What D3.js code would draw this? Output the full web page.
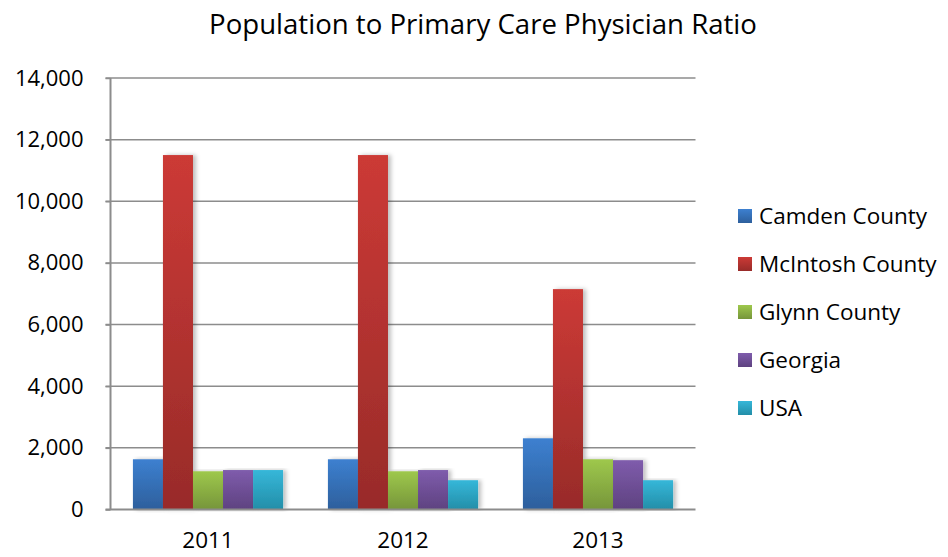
<!DOCTYPE html>
<html><head><meta charset="utf-8">
<script src="https://cdn.jsdelivr.net/npm/d3@7"></script>
<style>body{margin:0;background:#fff;} svg{display:block;font-family:"Open Sans","Noto Sans",sans-serif;}</style>
</head><body>
<svg id="c" width="948" height="557"></svg>
<script>
const years = ["2011", "2012", "2013"];
const seriesNames = ["Camden County", "McIntosh County", "Glynn County", "Georgia", "USA"];
const camden = [1630, 1630, 2310];
const mcintosh = [11500, 11500, 7150];
const glynn = [1240, 1240, 1630];
const georgia = [1280, 1280, 1600];
const usa = [1280, 950, 950];
const yTicks = [0, 2000, 4000, 6000, 8000, 10000, 12000, 14000];
const topColors = ["#3d80d0", "#cc3a36", "#9ec84c", "#7f5cac", "#36b7d9"];
const bottomColors = ["#2d5f9c", "#982b29", "#76953a", "#5e4280", "#238ea8"];

const seriesValues = [camden, mcintosh, glynn, georgia, usa];
const svg = d3.select("#c");
const m = {l: 110.5, r: 695.5, t: 78, b: 509.5};

const x0 = d3.scaleBand().domain(years).range([m.l, m.r]).paddingInner(0.23).paddingOuter(0.115);
const x1 = d3.scaleBand().domain(seriesNames).range([0, x0.bandwidth()]);
const y = d3.scaleLinear().domain([0, 14000]).range([m.b, m.t]);

const defs = svg.append("defs");
seriesNames.forEach((s, i) => {
  const g = defs.append("linearGradient").attr("id", "g" + i).attr("x1", 0).attr("y1", 0).attr("x2", 0).attr("y2", 1);
  g.append("stop").attr("offset", "0%").attr("stop-color", topColors[i]);
  g.append("stop").attr("offset", "100%").attr("stop-color", bottomColors[i]);
});
const f = defs.append("filter").attr("id", "sh").attr("x", "-20%").attr("y", "-5%").attr("width", "150%").attr("height", "110%");
f.append("feDropShadow").attr("dx", 3).attr("dy", 0).attr("stdDeviation", 2).attr("flood-color", "#000").attr("flood-opacity", 0.25);

// gridlines
svg.append("g").selectAll("line").data(yTicks.filter(d => d > 0)).join("line")
  .attr("x1", m.l - 5).attr("x2", m.r).attr("y1", d => y(d)).attr("y2", d => y(d))
  .attr("stroke", "#8c8c8c").attr("stroke-width", 1.5);

// y axis
const yAxis = d3.axisLeft(y).tickValues(yTicks).tickFormat(d3.format(",")).tickSize(5).tickPadding(22);
const ya = svg.append("g").attr("transform", `translate(${m.l},0)`).call(yAxis);
ya.select(".domain").attr("stroke", "#8c8c8c").attr("stroke-width", 2).attr("d", `M0,${m.t}V${m.b}`);
ya.selectAll(".tick line").attr("stroke", "#8c8c8c").attr("stroke-width", 1.5);
ya.selectAll("text").attr("font-size", 22).attr("fill", "#000").attr("font-family", "'Open Sans'");

// bars
const groups = svg.append("g").selectAll("g").data(years).join("g")
  .attr("transform", d => `translate(${x0(d)},0)`);
groups.selectAll("rect").data((d, yi) => seriesNames.map((s, si) => ({s, si, v: seriesValues[si][yi]}))).join("rect")
  .attr("x", d => x1(d.s)).attr("width", x1.bandwidth())
  .attr("y", d => y(d.v)).attr("height", d => y(0) - y(d.v))
  .attr("fill", d => `url(#g${d.si})`).attr("filter", "url(#sh)");

// x axis
const xAxis = d3.axisBottom(x0).tickSize(0).tickPadding(23);
const xa = svg.append("g").attr("transform", `translate(0,${m.b})`).call(xAxis);
xa.select(".domain").attr("stroke", "#8c8c8c").attr("stroke-width", 2).attr("d", `M${m.l - 5},0H${m.r}`);
xa.selectAll("text").attr("font-size", 22.5).attr("fill", "#000").attr("font-family", "'Open Sans'");

// title
svg.append("text").attr("x", 483).attr("y", 34).attr("text-anchor", "middle")
  .attr("font-size", 27.6).attr("fill", "#000").text("Population to Primary Care Physician Ratio");

// legend
const lg = svg.append("g").selectAll("g").data(seriesNames).join("g")
  .attr("transform", (d, i) => `translate(738,${216 + i * 48})`);
lg.append("rect").attr("x", 0).attr("y", -7).attr("width", 14).attr("height", 14)
  .attr("fill", (d, i) => `url(#g${i})`);
lg.append("text").attr("x", 21).attr("y", 8).attr("font-size", 22.5).attr("fill", "#000").text(d => d);
</script>
</body></html>
